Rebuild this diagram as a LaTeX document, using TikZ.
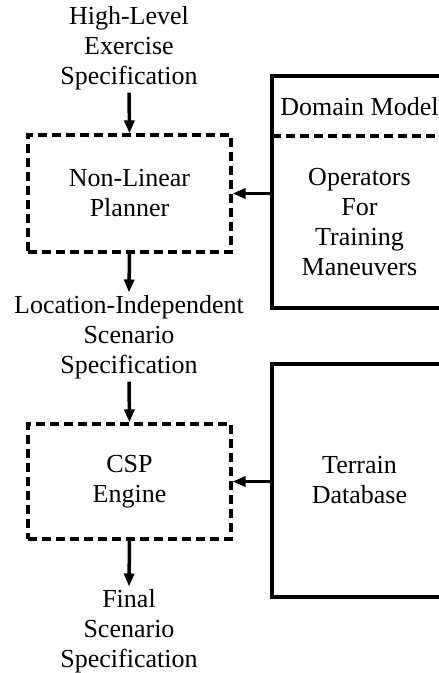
\documentclass[tikz,border=0pt]{standalone}
\usepackage{fontspec}
\setmainfont{Liberation Serif}
\usetikzlibrary{arrows.meta}

\begin{document}
\begin{tikzpicture}[x=1pt, y=-1pt, line width=3.5pt,
    font=\fontsize{26}{30}\selectfont,
    txt/.style={align=center, inner sep=1pt},
    modul/.style={draw, line width=3.2pt, dash pattern=on 9pt off 5pt, align=center, minimum width=203pt},
    base/.style={draw, align=center, minimum width=175pt},
    arr/.style={-{Triangle[length=13pt,width=10pt]}}]
      \useasboundingbox (0,0) rectangle (439,673);
      % Planner
      \node[txt] (spec1) at (129,48) {High-Level\\Exercise\\Specification};
      \node[modul, minimum height=117pt] (planner) at (129.5,193.5) {Non-Linear\\Planner};
      \node[txt] (spec2) at (129,337) {Location-Independent\\Scenario\\Specification};
      % CSP
      \node[modul, minimum height=115pt] (csp) at (129.5,481.5) {CSP\\Engine};
      \node[txt] (spec3) at (129,631) {Final\\Scenario\\Specification};
      % Domain model
      \node[base, minimum height=232pt] (domain) at (359.5,192) {};
      \node (dmtitle) at (359.5,107) {Domain Model};
      \node[txt] (ops) at (359.5,222) {Operators\\For\\Training\\Maneuvers};
      \coordinate (divl) at (272,136);
      \coordinate (divr) at (447,136);
      \draw[line width=3.2pt, dash pattern=on 9pt off 5pt] (divl) -- (divr);
      % Terrain
      \node[base, minimum height=233pt] (terrain) at (359.5,480.5) {Terrain\\Database};
      % Arrows
      \draw[arr] (spec1.south) -- (planner.north);
      \draw[arr] (planner.south) -- (spec2.north);
      \draw[arr] (spec2.south) -- (csp.north);
      \draw[arr] (csp.south) -- (spec3.north);
      \draw[arr] (domain.west |- planner.east) -- (planner.east);
      \draw[arr] (terrain.west |- csp.east) -- (csp.east);
    \end{tikzpicture}
\end{document}
